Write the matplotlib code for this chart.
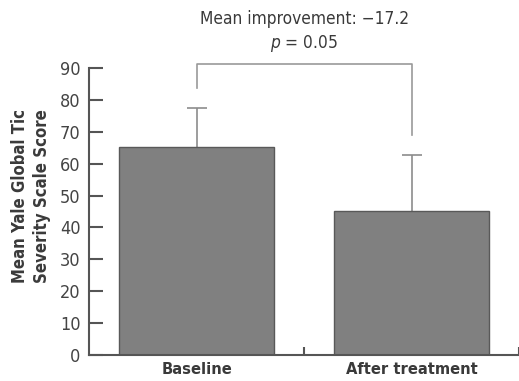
import matplotlib
matplotlib.use("Agg")
from matplotlib import pyplot as plt

groups = ["Baseline", "After treatment"]
means = [65.2, 45.1]
upper_err = [12.2, 17.6]
yticks = [0, 10, 20, 30, 40, 50, 60, 70, 80, 90]

annot_line1 = "Mean improvement: \u221217.2"
annot_line2 = "$p$ = 0.05"

plt.rcParams["font.family"] = ["DejaVu Sans"]
plt.rcParams["font.stretch"] = "condensed"

AX = "#555555"
TXT = "#3a3a3a"

fig = plt.figure(figsize=(5.19, 3.81), dpi=100)
ax = fig.add_axes([0.1715, 0.068, 0.8285, 0.7535])

x = list(range(len(groups)))
tops = [m + e for m, e in zip(means, upper_err)]

ax.bar(x, means, width=0.72, color="#808080", edgecolor="#595959", linewidth=1.0, zorder=2)
# upper error bars only
ax.vlines(x, means, tops, color="#8c8c8c", lw=1.2, zorder=1)
ax.plot(x, tops, ls="none", marker="_", markersize=14, markeredgewidth=1.2, color="#8c8c8c", zorder=1)

# significance bracket
ax.plot([0, 0, 1, 1], [83.6, 91.2, 91.2, 69.0], color="#999999", lw=1.2, clip_on=False)
ax.text(0.5, 105.5, annot_line1, ha="center", va="center", fontsize=12.4, color=TXT)
ax.text(0.5, 97.8, annot_line2, ha="center", va="center", fontsize=12.4, color=TXT)

ax.set_xlim(-0.5, 1.5)
ax.set_ylim(0, 90)
ax.set_yticks(yticks)
ax.set_yticklabels([str(v) for v in yticks], fontsize=13, color="#444444")
ax.tick_params(axis="y", direction="in", length=10, width=1.5, color=AX, pad=6)

ax.set_xticks([0.5, 1.5])
ax.set_xticklabels(["", ""])
ax.tick_params(axis="x", direction="in", length=6, width=1.5, color=AX)
for xi, g in zip(x, groups):
    ax.text(xi, -2.3, g, ha="center", va="top", fontsize=11.8, fontweight="bold", color=TXT)

ax.spines["top"].set_visible(False)
ax.spines["right"].set_visible(False)
ax.spines["left"].set_color(AX)
ax.spines["bottom"].set_color(AX)
ax.spines["left"].set_linewidth(1.5)
ax.spines["bottom"].set_linewidth(1.5)

fig.text(31 / 519, 1 - 196 / 381, "Mean Yale Global Tic\nSeverity Scale Score", rotation=90,
         ha="center", va="center", multialignment="center", fontsize=12, fontweight="bold",
         color=TXT, linespacing=1.35)

fig.savefig("out.png", dpi=100)
